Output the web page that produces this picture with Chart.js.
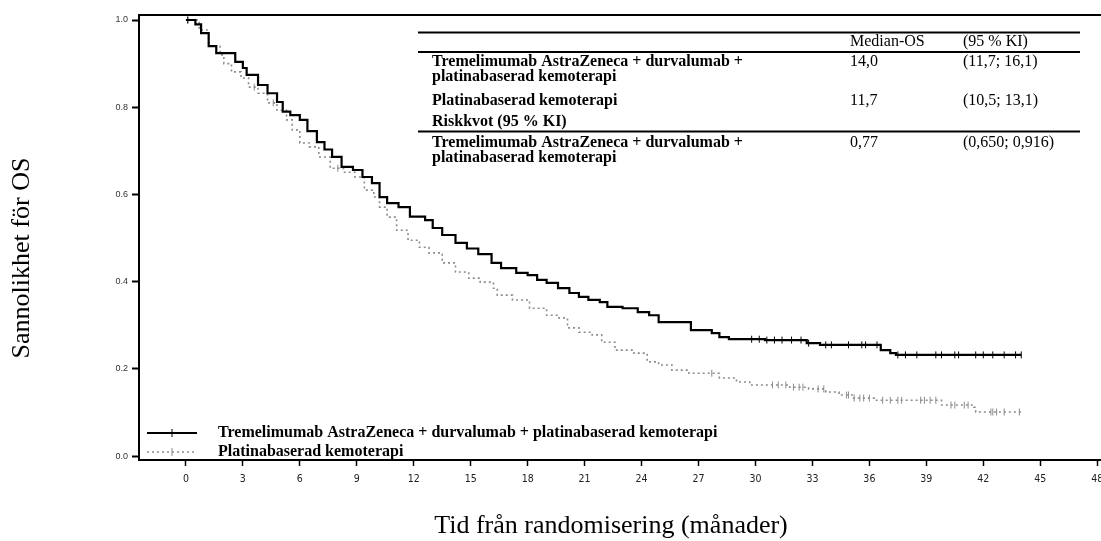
<!DOCTYPE html>
<html>
<head>
<meta charset="utf-8">
<script src="https://cdn.jsdelivr.net/npm/chart.js@4.4.1/dist/chart.umd.min.js"></script>
<style>
  html, body { margin: 0; padding: 0; background: #fff; }
  canvas { display: block; }
</style>
</head>
<body>
<canvas id="km" width="1101" height="541"></canvas>
<script>
// arms
const armLabels = [
  'Tremelimumab AstraZeneca + durvalumab + platinabaserad kemoterapi',
  'Platinabaserad kemoterapi'
];

// axis ticks (months / probability)
const xTicks = [0, 3, 6, 9, 12, 15, 18, 21, 24, 27, 30, 33, 36, 39, 42, 45, 48];
const yTicks = [0, 0.2, 0.4, 0.6, 0.8, 1.0];
const xTitle = 'Tid från randomisering (månader)';
const yTitle = 'Sannolikhet för OS';

// Kaplan-Meier steps, tremelimumab + durvalumab + chemo
const trtTime = [0, 0.5, 0.8, 1.2, 1.6, 2.6, 3.0, 3.2, 3.8, 4.3, 4.8, 5.1, 5.5, 6.0, 6.4, 6.9, 7.3, 7.7, 8.2, 8.8,
  9.3, 9.8, 10.2, 10.6, 11.2, 11.8, 12.6, 13.0, 13.5, 14.2, 14.8, 15.4, 16.1, 16.6, 17.4, 18.0, 18.5, 19.0, 19.6, 20.2,
  20.7, 21.2, 21.8, 22.2, 23.0, 23.8, 24.4, 24.9, 26.6, 27.7, 28.1, 28.6, 30.5, 32.7, 33.4, 36.6, 37.1, 37.4, 44.0];
const trtSurv = [1.0, 0.99, 0.97, 0.94, 0.924, 0.904, 0.89, 0.874, 0.851, 0.832, 0.812, 0.79, 0.782, 0.771, 0.745, 0.72, 0.703, 0.686, 0.663, 0.656,
  0.64, 0.626, 0.594, 0.58, 0.571, 0.549, 0.541, 0.523, 0.507, 0.489, 0.476, 0.463, 0.443, 0.431, 0.42, 0.415, 0.404, 0.397, 0.385, 0.374,
  0.365, 0.358, 0.353, 0.342, 0.339, 0.33, 0.323, 0.307, 0.289, 0.282, 0.273, 0.268, 0.266, 0.259, 0.255, 0.243, 0.236, 0.232, 0.232];
const trtCensor = [0.1, 29.8, 30.2, 30.6, 31.0, 31.4, 31.9, 32.4, 32.8, 33.7, 34.0, 34.9, 35.6, 35.8, 36.4, 37.5, 37.9, 38.5,
  39.5, 39.8, 40.5, 40.7, 41.6, 42.0, 42.5, 43.1, 43.7, 44.0];

// Kaplan-Meier steps, platinum chemo
const chemoTime = [0, 0.7, 1.2, 1.8, 2.0, 2.4, 2.9, 3.3, 3.8, 4.3, 4.8, 5.3, 5.6, 6.0, 6.5, 7.0, 7.6, 8.3, 8.9, 9.4,
  9.9, 10.2, 10.6, 11.1, 11.7, 12.3, 12.8, 13.5, 14.2, 14.9, 15.5, 16.2, 16.4, 17.2, 18.1, 19.0, 19.6, 20.1, 20.7, 21.4,
  21.9, 22.6, 23.6, 24.3, 24.9, 25.6, 26.5, 28.1, 29.0, 29.7, 31.8, 32.8, 33.7, 34.4, 35.1, 36.3, 39.8, 41.5, 41.6, 44.0];
const chemoSurv = [1.0, 0.977, 0.94, 0.92, 0.90, 0.881, 0.867, 0.846, 0.832, 0.81, 0.793, 0.771, 0.748, 0.718, 0.709, 0.686, 0.66, 0.651, 0.64, 0.61,
  0.594, 0.571, 0.548, 0.518, 0.495, 0.479, 0.466, 0.443, 0.422, 0.408, 0.399, 0.385, 0.369, 0.358, 0.339, 0.323, 0.317, 0.294, 0.284, 0.278,
  0.261, 0.243, 0.236, 0.216, 0.209, 0.197, 0.19, 0.179, 0.17, 0.163, 0.158, 0.154, 0.147, 0.14, 0.133, 0.128, 0.117, 0.112, 0.101, 0.101];
const chemoCensor = [0.1, 3.6, 4.6, 8.0, 27.7, 30.9, 31.2, 31.6, 32.0, 32.3, 32.5, 33.3, 33.6, 34.8, 34.9, 35.2, 35.5, 35.7,
  36.0, 36.7, 37.1, 37.5, 37.7, 38.7, 38.9, 39.2, 39.5, 40.3, 40.5, 41.0, 41.2, 42.4, 42.5, 42.7, 43.1, 43.9];

// summary table
const tableHead = ['Median-OS', '(95 % KI)'];
const tableRows = [
  { name: ['Tremelimumab AstraZeneca + durvalumab +', 'platinabaserad kemoterapi'], value: '14,0', ci: '(11,7; 16,1)' },
  { name: ['Platinabaserad kemoterapi'], value: '11,7', ci: '(10,5; 13,1)' }
];
const hrLabel = 'Riskkvot (95 % KI)';
const hrRow = { name: ['Tremelimumab AstraZeneca + durvalumab +', 'platinabaserad kemoterapi'], value: '0,77', ci: '(0,650; 0,916)' };

const SERIF = '"Liberation Serif", "Times New Roman", serif';
const GREY = '#8c8c8c';

function toPoints(times, surv) {
  return times.map((t, i) => ({ x: t, y: surv[i] }));
}

function stepAt(times, surv, t) {
  let s = surv[0];
  for (let i = 0; i < times.length; i++) {
    if (times[i] <= t) s = surv[i];
  }
  return s;
}

function censorPoints(cens, times, surv) {
  return cens.map(t => ({ x: t, y: stepAt(times, surv, t) }));
}

const decorPlugin = {
  id: 'decor',
  afterDraw(chart) {
    const ctx = chart.ctx;
    const area = chart.chartArea;
    ctx.save();

    // top frame line
    ctx.strokeStyle = '#000';
    ctx.lineWidth = 2;
    ctx.beginPath();
    ctx.moveTo(area.left - 1, area.top);
    ctx.lineTo(area.right, area.top);
    ctx.stroke();

    // axis titles
    ctx.fillStyle = '#000';
    ctx.font = '26px ' + SERIF;
    ctx.textAlign = 'center';
    ctx.textBaseline = 'middle';
    ctx.fillText(xTitle, 611, 526);
    ctx.save();
    ctx.translate(22, 258);
    ctx.rotate(-Math.PI / 2);
    ctx.fillText(yTitle, 0, 0);
    ctx.restore();

    // table
    const x0 = 418, x1 = 1080, cName = 432, cVal = 850, cCi = 963;
    ctx.lineWidth = 2;
    [32.5, 52, 131.5].forEach(y => {
      ctx.beginPath();
      ctx.moveTo(x0, y);
      ctx.lineTo(x1, y);
      ctx.stroke();
    });
    ctx.textAlign = 'left';
    ctx.font = '16px ' + SERIF;
    ctx.fillText(tableHead[0], cVal, 42);
    ctx.fillText(tableHead[1], cCi, 42);
    const rowY = [62, 101];
    tableRows.forEach((r, i) => {
      ctx.font = 'bold 16px ' + SERIF;
      r.name.forEach((line, j) => ctx.fillText(line, cName, rowY[i] + j * 15));
      ctx.font = '16px ' + SERIF;
      ctx.fillText(r.value, cVal, rowY[i]);
      ctx.fillText(r.ci, cCi, rowY[i]);
    });
    ctx.font = 'bold 16px ' + SERIF;
    ctx.fillText(hrLabel, cName, 122);
    hrRow.name.forEach((line, j) => ctx.fillText(line, cName, 143 + j * 15));
    ctx.font = '16px ' + SERIF;
    ctx.fillText(hrRow.value, cVal, 143);
    ctx.fillText(hrRow.ci, cCi, 143);

    // legend
    const legY = [433, 452];
    const styles = [
      { color: '#000', width: 2.2, dash: [] },
      { color: GREY, width: 1.4, dash: [2, 3] }
    ];
    armLabels.forEach((lab, i) => {
      const st = styles[i];
      ctx.strokeStyle = st.color;
      ctx.lineWidth = st.width;
      ctx.setLineDash(st.dash);
      ctx.beginPath();
      ctx.moveTo(147, legY[i]);
      ctx.lineTo(197, legY[i]);
      ctx.stroke();
      ctx.setLineDash([]);
      ctx.lineWidth = 1;
      ctx.beginPath();
      ctx.moveTo(172, legY[i] - 4);
      ctx.lineTo(172, legY[i] + 4);
      ctx.stroke();
      ctx.fillStyle = '#000';
      ctx.font = 'bold 16px ' + SERIF;
      ctx.fillText(lab, 218, legY[i]);
    });
    ctx.restore();
  }
};

new Chart(document.getElementById('km'), {
  type: 'line',
  data: {
    datasets: [
      {
        label: armLabels[0],
        data: toPoints(trtTime, trtSurv),
        stepped: true,
        borderColor: '#000',
        borderWidth: 2.2,
        pointRadius: 0,
        fill: false
      },
      {
        label: armLabels[1],
        data: toPoints(chemoTime, chemoSurv),
        stepped: true,
        borderColor: GREY,
        borderWidth: 1.6,
        borderDash: [2, 3],
        pointRadius: 0,
        fill: false
      },
      {
        label: 'censored-1',
        data: censorPoints(trtCensor, trtTime, trtSurv),
        showLine: false,
        pointStyle: 'line',
        rotation: 90,
        pointRadius: 3.5,
        pointBorderWidth: 1,
        pointBorderColor: '#000'
      },
      {
        label: 'censored-2',
        data: censorPoints(chemoCensor, chemoTime, chemoSurv),
        showLine: false,
        pointStyle: 'line',
        rotation: 90,
        pointRadius: 3.5,
        pointBorderWidth: 1,
        pointBorderColor: GREY
      }
    ]
  },
  options: {
    responsive: false,
    animation: false,
    devicePixelRatio: 1,
    layout: { autoPadding: false, padding: { top: 15, left: 0, right: 0, bottom: 0 } },
    plugins: {
      legend: { display: false },
      tooltip: { enabled: false }
    },
    scales: {
      x: {
        type: 'linear',
        min: -2.47,
        max: 48.2,
        afterBuildTicks: s => { s.ticks = xTicks.map(v => ({ value: v })); },
        afterFit: s => { s.height = 81; s.paddingLeft = 0; s.paddingRight = 0; },
        border: { display: true, color: '#000', width: 2 },
        grid: { display: true, drawOnChartArea: false, drawTicks: true, tickLength: 6, tickColor: '#000', tickWidth: 1.5 },
        ticks: {
          autoSkip: false,
          maxRotation: 0,
          padding: 7,
          color: '#222',
          font: { family: '"Liberation Sans Narrow", "DejaVu Sans Condensed", "Liberation Sans", sans-serif', size: 10.5 }
        }
      },
      y: {
        min: -0.009,
        max: 1.0115,
        afterBuildTicks: s => { s.ticks = yTicks.map(v => ({ value: v })); },
        afterFit: s => { s.width = 139; s.paddingTop = 0; s.paddingBottom = 0; },
        border: { display: true, color: '#000', width: 2 },
        grid: { display: true, drawOnChartArea: false, drawTicks: true, tickLength: 7, tickColor: '#000', tickWidth: 2 },
        ticks: {
          padding: 4,
          color: '#333',
          callback: v => v.toFixed(1),
          font: { family: '"Liberation Sans", Arial, sans-serif', size: 9 }
        }
      }
    }
  },
  plugins: [decorPlugin]
});
</script>
</body>
</html>
